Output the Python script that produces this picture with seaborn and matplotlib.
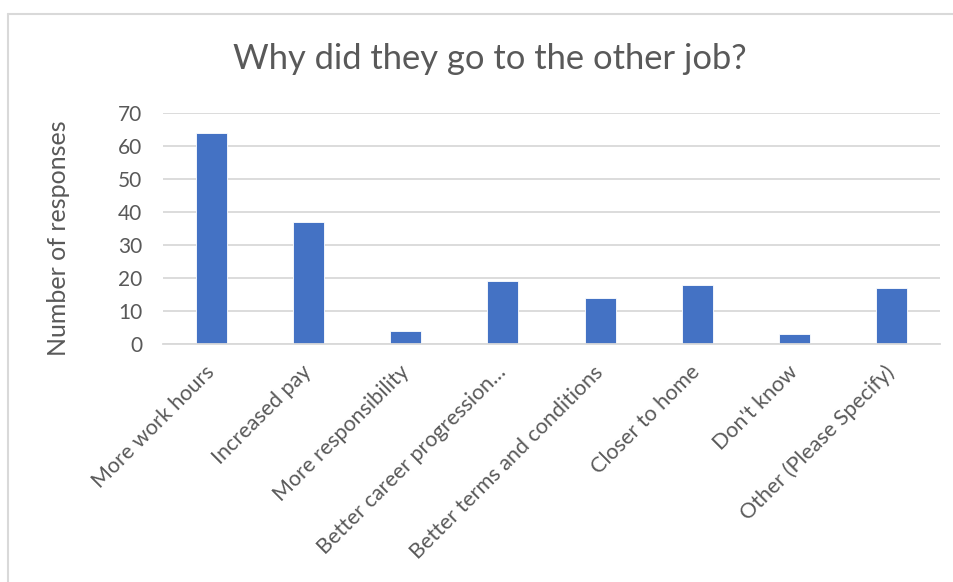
import matplotlib
matplotlib.use("Agg")
import matplotlib.pyplot as plt
from matplotlib.lines import Line2D
import seaborn as sns
import pandas as pd

reasons = [
    "More work hours",
    "Increased pay",
    "More responsibility",
    "Better career progression…",
    "Better terms and conditions",
    "Closer to home",
    "Don't know",
    "Other (Please Specify)",
]
responses = [64, 37, 4, 19, 14, 18, 3, 17]
y_ticks = [0, 10, 20, 30, 40, 50, 60, 70]

df = pd.DataFrame({"reason": reasons, "responses": responses})

sns.set_theme(style="white")
plt.rcParams["font.family"] = ["Lato", "DejaVu Sans"]

TEXT = "#595959"
GRID = "#d9d9d9"
BAR = "#4472c4"

W, H = 954, 582
fig = plt.figure(figsize=(W / 100, H / 100), dpi=100)
ax = fig.add_axes([163 / W, 1 - 344 / H, (940 - 163) / W, (344 - 113) / H])

sns.barplot(data=df, x="reason", y="responses", color=BAR, width=0.32,
            saturation=1, ax=ax, edgecolor="white", linewidth=0.6)

ax.set_ylim(0, 70)
ax.set_xlim(-0.5, len(reasons) - 0.5)
ax.set_yticks(y_ticks)
ax.yaxis.grid(True, color=GRID, linewidth=1.3)
ax.set_axisbelow(True)
for side in ["top", "right", "left"]:
    ax.spines[side].set_visible(False)
ax.spines["bottom"].set_color(GRID)
ax.spines["bottom"].set_linewidth(1.3)

ax.tick_params(axis="y", length=0, pad=15, labelsize=15, labelcolor=TEXT)
ax.tick_params(axis="x", length=0, pad=18, labelsize=15.5, labelcolor=TEXT)
ax.set_xticks(range(len(reasons)))
ax.set_xticklabels(reasons, rotation=45, ha="right", va="center",
                   rotation_mode="anchor")

ax.set_xlabel("")
ax.set_ylabel("Number of responses", fontsize=18, color=TEXT)
ax.yaxis.label.set_va("center")
ax.yaxis.set_label_coords((59 - 163) / 777, (344 - 238) / 231)

fig.text(490 / W, 1 - 59 / H, "Why did they go to the other job?",
         ha="center", va="center", fontsize=24.8, color=TEXT)

# chart frame, open towards the right and bottom
fig.add_artist(Line2D([8 / W, 1.0], [1 - 14 / H, 1 - 14 / H],
                      transform=fig.transFigure, color=GRID, linewidth=1.5))
fig.add_artist(Line2D([8 / W, 8 / W], [1 - 14 / H, 0.0],
                      transform=fig.transFigure, color=GRID, linewidth=1.5))

fig.savefig("out.png", dpi=100, facecolor="white")
